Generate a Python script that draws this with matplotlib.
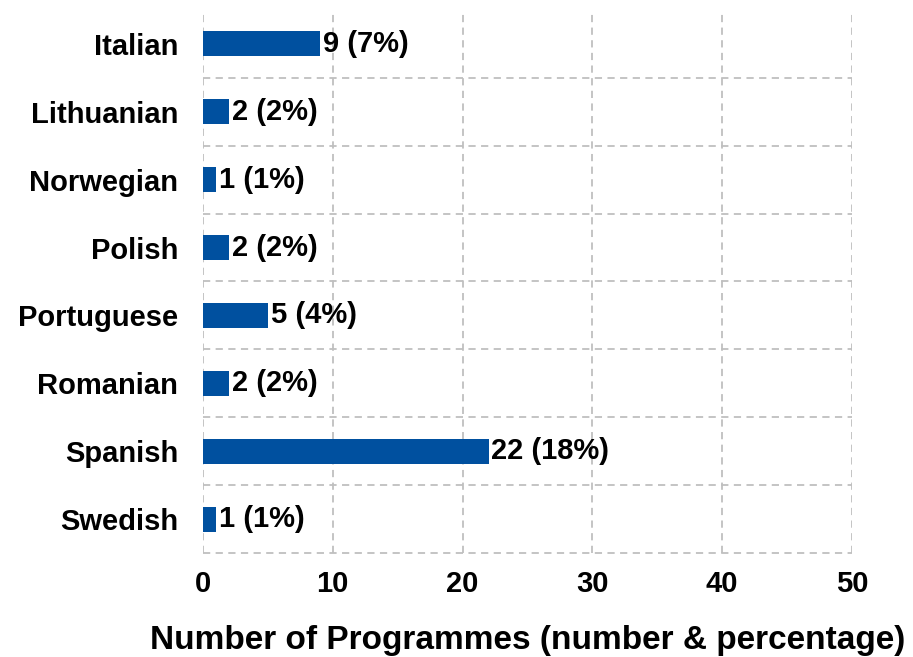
import numpy as np
import matplotlib.pyplot as plt
from matplotlib.ticker import FixedLocator

languages = ["Italian", "Lithuanian", "Norwegian", "Polish",
             "Portuguese", "Romanian", "Spanish", "Swedish"]
counts = [9, 2, 1, 2, 5, 2, 22, 1]
percents = [7, 2, 1, 2, 4, 2, 18, 1]
xticks = [0, 10, 20, 30, 40, 50]

plt.rcParams['font.family'] = ['Liberation Sans', 'DejaVu Sans']

fig = plt.figure(figsize=(9.13, 6.57), dpi=100)
ax = fig.add_axes([0.2223, 0.1583, 0.7109, 0.8265])

pos = np.arange(len(languages))
ax.barh(pos, counts, height=0.37, color='#00509F', zorder=3)

for p, c, pc in zip(pos, counts, percents):
    ax.text(c + 0.22, p, f"{c} ({pc}%)", va='center', ha='left',
            fontsize=21, fontweight='bold', color='black', zorder=4)

ax.set_xlim(0, 50)
ax.set_ylim(len(languages) - 0.5, -0.5)
ax.set_xticks(xticks)
ax.set_yticks(pos)
ax.set_yticklabels(languages, va='center_baseline')
ax.yaxis.set_minor_locator(FixedLocator(pos[:-1] + 0.5))

for s in ax.spines.values():
    s.set_visible(False)
ax.axhline(len(languages) - 0.5, color='#BFBFBF', ls=(0, (4, 3)), lw=1.3, clip_on=False)

ax.grid(axis='x', which='major', color='#BFBFBF', ls=(0, (4, 3)), lw=1.3, zorder=0)
ax.grid(axis='y', which='minor', color='#BFBFBF', ls=(0, (4, 3)), lw=1.3, zorder=0)
ax.tick_params(axis='both', which='both', length=0)
ax.tick_params(axis='y', pad=18, labelsize=21)
ax.tick_params(axis='x', pad=12, labelsize=21)
for lab in ax.get_xticklabels() + ax.get_yticklabels():
    lab.set_fontweight('bold')

ax.set_xlabel("Number of Programmes (number & percentage)", fontsize=24,
              fontweight='bold', labelpad=20)

fig.savefig("out.png", dpi=100)
